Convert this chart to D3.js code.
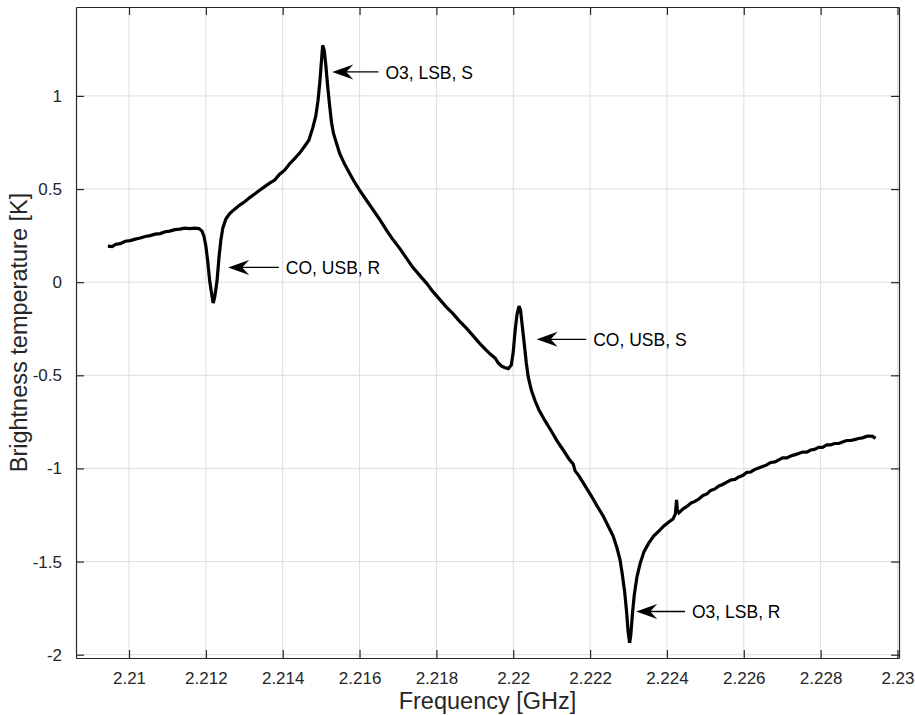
<!DOCTYPE html>
<html>
<head>
<meta charset="utf-8">
<script src="https://cdn.jsdelivr.net/npm/d3@7"></script>
<style>
  html, body { margin: 0; padding: 0; background: #fff; }
  svg { display: block; }
  text { font-family: "Liberation Sans", Arial, Helvetica, sans-serif; fill: #262626; }
</style>
</head>
<body>
<svg id="chart" width="915" height="715"></svg>
<script>
// Measured spectrum: frequency [GHz] and brightness temperature [K]
const freq = [
  2.20945, 2.20956, 2.20966, 2.20977, 2.20990, 2.21003, 2.21016, 2.21029, 2.21042, 2.21055,
  2.21068, 2.21081, 2.21094, 2.21106, 2.21119, 2.21132, 2.21145, 2.21158, 2.21171, 2.21182,
  2.21190, 2.21195, 2.21200, 2.21205, 2.21210, 2.21216, 2.21219, 2.21223, 2.21229, 2.21234,
  2.21239, 2.21244, 2.21252, 2.21262, 2.21275, 2.21288, 2.21301, 2.21314, 2.21327, 2.21340,
  2.21353, 2.21366, 2.21379, 2.21392, 2.21405, 2.21418, 2.21431, 2.21444, 2.21457, 2.21468,
  2.21478, 2.21486, 2.21492, 2.21497, 2.21501, 2.21504, 2.21508, 2.21512, 2.21517, 2.21522,
  2.21527, 2.21532, 2.21540, 2.21548, 2.21561, 2.21574, 2.21587, 2.21600, 2.21618, 2.21634,
  2.21652, 2.21670, 2.21686, 2.21704, 2.21722, 2.21738, 2.21756, 2.21774, 2.21790, 2.21808,
  2.21826, 2.21842, 2.21860, 2.21878, 2.21894, 2.21912, 2.21927, 2.21940, 2.21953, 2.21961,
  2.21969, 2.21977, 2.21987, 2.21995, 2.22000, 2.22005, 2.22010, 2.22015, 2.22019, 2.22023,
  2.22029, 2.22034, 2.22039, 2.22047, 2.22057, 2.22067, 2.22083, 2.22099, 2.22114, 2.22130,
  2.22145, 2.22156, 2.22161, 2.22171, 2.22187, 2.22203, 2.22218, 2.22234, 2.22247, 2.22260,
  2.22270, 2.22278, 2.22284, 2.22290, 2.22295, 2.22299, 2.22303, 2.22306, 2.22310, 2.22315,
  2.22322, 2.22330, 2.22340, 2.22353, 2.22366, 2.22379, 2.22392, 2.22405, 2.22416, 2.22422,
  2.22425, 2.22427, 2.22431, 2.22442, 2.22452, 2.22463, 2.22473, 2.22483, 2.22494, 2.22504,
  2.22514, 2.22525, 2.22535, 2.22545, 2.22556, 2.22566, 2.22577, 2.22587, 2.22597, 2.22608,
  2.22618, 2.22629, 2.22639, 2.22649, 2.22660, 2.22670, 2.22681, 2.22691, 2.22701, 2.22712,
  2.22722, 2.22732, 2.22743, 2.22753, 2.22764, 2.22774, 2.22784, 2.22795, 2.22805, 2.22816,
  2.22826, 2.22836, 2.22847, 2.22857, 2.22868, 2.22878, 2.22888, 2.22899, 2.22909, 2.22919,
  2.22927, 2.22935, 2.22943
];

const temp = [
  0.194, 0.191, 0.204, 0.207, 0.220, 0.223, 0.231, 0.237, 0.245, 0.250,
  0.258, 0.261, 0.271, 0.274, 0.282, 0.285, 0.290, 0.288, 0.290, 0.288,
  0.274, 0.247, 0.194, 0.108, 0.006, -0.075, -0.112, -0.080, 0.006, 0.129,
  0.226, 0.290, 0.339, 0.368, 0.392, 0.414, 0.432, 0.454, 0.473, 0.494,
  0.513, 0.532, 0.548, 0.580, 0.601, 0.636, 0.663, 0.693, 0.730, 0.762,
  0.827, 0.891, 0.977, 1.084, 1.191, 1.272, 1.245, 1.170, 1.052, 0.950,
  0.859, 0.800, 0.746, 0.692, 0.634, 0.585, 0.537, 0.494, 0.440, 0.392,
  0.338, 0.279, 0.231, 0.183, 0.129, 0.081, 0.038, -0.005, -0.048, -0.091,
  -0.134, -0.166, -0.209, -0.247, -0.284, -0.327, -0.359, -0.386, -0.408, -0.434,
  -0.450, -0.458, -0.464, -0.445, -0.375, -0.257, -0.171, -0.128, -0.150, -0.225,
  -0.337, -0.434, -0.509, -0.579, -0.638, -0.686, -0.745, -0.799, -0.852, -0.901,
  -0.949, -0.976, -1.013, -1.040, -1.094, -1.147, -1.201, -1.255, -1.309, -1.363,
  -1.427, -1.491, -1.571, -1.663, -1.770, -1.877, -1.936, -1.893, -1.786, -1.679,
  -1.582, -1.512, -1.448, -1.400, -1.362, -1.336, -1.309, -1.287, -1.271, -1.244,
  -1.169, -1.223, -1.239, -1.217, -1.204, -1.185, -1.177, -1.164, -1.145, -1.137,
  -1.118, -1.110, -1.094, -1.086, -1.073, -1.062, -1.059, -1.046, -1.038, -1.021,
  -1.019, -1.005, -0.997, -0.989, -0.981, -0.968, -0.965, -0.954, -0.943, -0.943,
  -0.933, -0.927, -0.920, -0.912, -0.912, -0.901, -0.898, -0.887, -0.887, -0.874,
  -0.874, -0.866, -0.866, -0.858, -0.850, -0.850, -0.845, -0.839, -0.836, -0.828,
  -0.826, -0.828, -0.839
];

// Axis ticks and limits
const xTicks = [2.21, 2.212, 2.214, 2.216, 2.218, 2.22, 2.222, 2.224, 2.226, 2.228, 2.23];
const xTickLabels = ["2.21", "2.212", "2.214", "2.216", "2.218", "2.22", "2.222", "2.224", "2.226", "2.228", "2.23"];
const yTicks = [-2, -1.5, -1, -0.5, 0, 0.5, 1];
const yTickLabels = ["-2", "-1.5", "-1", "-0.5", "0", "0.5", "1"];
const xLimits = [2.20862, 2.23004];
const yLimits = [-2.0177, 1.4774];

// Line annotations: arrow tip (freq, temp), arrow tail freq, label
const noteLabels = ["O3, LSB, S", "CO, USB, R", "CO, USB, S", "O3, LSB, R"];
const noteTipFreq = [2.21529, 2.21258, 2.22061, 2.22320];
const noteTipTemp = [1.129, 0.079, -0.307, -1.768];
const noteTailFreq = [2.21649, 2.21390, 2.22190, 2.22447];

const svg = d3.select("#chart");
const plot = { left: 76, right: 899, top: 7, bottom: 658 };

const x = d3.scaleLinear().domain(xLimits).range([plot.left, plot.right]);
const y = d3.scaleLinear().domain(yLimits).range([plot.bottom, plot.top]);

const gridColor = "#dedede";
const axisColor = "#262626";
const tickLen = 8;

// Grid
const grid = svg.append("g");
grid.selectAll("line.gx").data(xTicks).join("line")
  .attr("x1", d => x(d)).attr("x2", d => x(d))
  .attr("y1", plot.top).attr("y2", plot.bottom)
  .attr("stroke", gridColor).attr("stroke-width", 1);
grid.selectAll("line.gy").data(yTicks).join("line")
  .attr("x1", plot.left).attr("x2", plot.right)
  .attr("y1", d => y(d)).attr("y2", d => y(d))
  .attr("stroke", gridColor).attr("stroke-width", 1);

// Spectrum
const pts = freq.map((f, i) => [f, temp[i]]);
const line = d3.line().x(d => x(d[0])).y(d => y(d[1]));
svg.append("path")
  .datum(pts)
  .attr("d", line)
  .attr("fill", "none")
  .attr("stroke", "#000")
  .attr("stroke-width", 3.2)
  .attr("stroke-linejoin", "miter")
  .attr("stroke-miterlimit", 3);

// Axes box with inward ticks on all four sides
const axes = svg.append("g");
const xFmt = (d, i) => xTickLabels[i];
const yFmt = (d, i) => yTickLabels[i];

const xBottom = axes.append("g").attr("transform", `translate(0,${plot.bottom})`)
  .call(d3.axisBottom(x).tickValues(xTicks).tickFormat(xFmt).tickSizeInner(-tickLen).tickSizeOuter(0).tickPadding(14));
const xTop = axes.append("g").attr("transform", `translate(0,${plot.top})`)
  .call(d3.axisTop(x).tickValues(xTicks).tickFormat("").tickSizeInner(-tickLen).tickSizeOuter(0));
const yLeft = axes.append("g").attr("transform", `translate(${plot.left},0)`)
  .call(d3.axisLeft(y).tickValues(yTicks).tickFormat(yFmt).tickSizeInner(-tickLen).tickSizeOuter(0).tickPadding(14));
const yRight = axes.append("g").attr("transform", `translate(${plot.right},0)`)
  .call(d3.axisRight(y).tickValues(yTicks).tickFormat("").tickSizeInner(-tickLen).tickSizeOuter(0));

[xBottom, xTop, yLeft, yRight].forEach(g => {
  g.select(".domain").attr("stroke", axisColor).attr("stroke-width", 1.2);
  g.selectAll(".tick line").attr("stroke", axisColor).attr("stroke-width", 1.2);
  g.selectAll(".tick text")
    .attr("fill", axisColor)
    .style("font-family", "'Liberation Sans', Arial, sans-serif")
    .style("font-size", "17px");
});
xBottom.selectAll(".tick text").attr("dy", "0.71em");

// Axis labels
svg.append("text")
  .attr("x", (plot.left + plot.right) / 2)
  .attr("y", 709)
  .attr("text-anchor", "middle")
  .style("font-size", "23.5px")
  .text("Frequency [GHz]");

svg.append("text")
  .attr("transform", `translate(27,${(plot.top + plot.bottom) / 2}) rotate(-90)`)
  .attr("text-anchor", "middle")
  .style("font-size", "23.5px")
  .text("Brightness temperature [K]");

// Annotations: arrows pointing at the lines
const notes = noteLabels.map((t, i) => ({
  label: t,
  tx: x(noteTipFreq[i]), ty: y(noteTipTemp[i]),
  ex: x(noteTailFreq[i])
}));

const ng = svg.append("g");
notes.forEach(n => {
  ng.append("line")
    .attr("x1", n.tx + 12).attr("x2", n.ex)
    .attr("y1", n.ty).attr("y2", n.ty)
    .attr("stroke", "#000").attr("stroke-width", 1.3);
  const hl = 21, hw = 7.5, notch = 14;
  ng.append("path")
    .attr("d", `M${n.tx},${n.ty} L${n.tx + hl},${n.ty - hw} L${n.tx + notch},${n.ty} L${n.tx + hl},${n.ty + hw} Z`)
    .attr("fill", "#000");
  ng.append("text")
    .attr("x", n.ex + 7)
    .attr("y", n.ty + 7)
    .style("font-size", "17.5px")
    .style("fill", "#000")
    .text(n.label);
});
</script>
</body>
</html>
